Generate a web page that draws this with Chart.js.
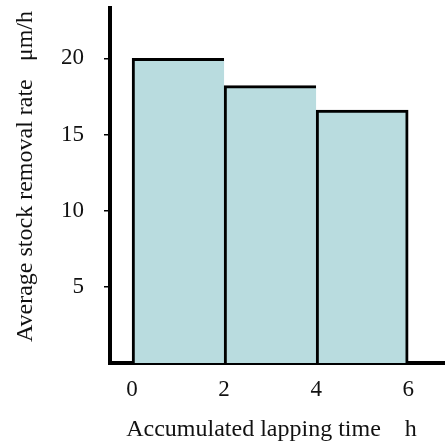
<!DOCTYPE html>
<html>
<head>
<meta charset="utf-8">
<script src="https://cdn.jsdelivr.net/npm/chart.js@4"></script>
<style>
  html, body { margin: 0; padding: 0; background: #fff; }
  #wrap { width: 445px; height: 444px; }
</style>
</head>
<body>
<div id="wrap"><canvas id="myChart"></canvas></div>
<script>
// lapping time bins (h) and average removal rate (um/h)
var binStart = [0, 2, 4];
var binEnd = [2, 4, 6];
var rates = [20, 18.2, 16.6];
var xTicks = [0, 2, 4, 6];
var yTicks = [5, 10, 15, 20];

var serif = "'Liberation Serif', 'DejaVu Serif', serif";
var ctx = document.getElementById("myChart");

var myChart = new Chart(ctx, {
  type: 'bar',
  data: {
    datasets: [{
      data: binStart.map(function (s, i) {
        return { x: (s + binEnd[i]) / 2, y: rates[i] };
      }),
      backgroundColor: "#b9dcdf",
      borderColor: "#000",
      borderWidth: function (c) {
        return { top: 3, left: 3, bottom: 0, right: c.dataIndex === rates.length - 1 ? 3 : 0 };
      },
      borderSkipped: false,
      barPercentage: 1,
      categoryPercentage: 1
    }]
  },
  options: {
    responsive: true,
    maintainAspectRatio: false,
    animation: false,
    layout: { padding: { top: 8, right: 0, left: 0, bottom: 0 } },
    plugins: {
      legend: { display: false },
      tooltip: { enabled: false }
    },
    scales: {
      x: {
        type: 'linear',
        offset: false,
        min: -0.48,
        max: 6.8,
        afterBuildTicks: function (axis) {
          axis.ticks = xTicks.map(function (v) { return { value: v }; });
        },
        afterFit: function (axis) {
          axis.height = 81;
          axis.paddingLeft = 0;
          axis.paddingRight = 0;
        },
        grid: { drawOnChartArea: false, drawTicks: false },
        border: { display: true, color: '#000', width: 4 },
        ticks: {
          color: '#111',
          font: { family: serif, size: 23 },
          padding: 13,
          maxRotation: 0,
          autoSkip: false
        },
        title: {
          display: true,
          text: 'Accumulated lapping time    h  ',
          color: '#111',
          font: { family: serif, size: 24 },
          padding: { top: 0, bottom: 0 }
        }
      },
      y: {
        min: 0,
        max: 23.3,
        afterBuildTicks: function (axis) {
          axis.ticks = yTicks.map(function (v) { return { value: v }; });
        },
        afterFit: function (axis) {
          axis.width = 110;
          axis.paddingTop = 0;
          axis.paddingBottom = 0;
        },
        grid: { drawOnChartArea: false, drawTicks: true, tickLength: 6, color: '#000', lineWidth: 1.5 },
        border: { display: true, color: '#000', width: 4 },
        ticks: {
          color: '#111',
          font: { family: serif, size: 23 },
          padding: 20
        },
        title: {
          display: true,
          text: '   Average stock removal rate   \u03bcm/h',
          color: '#111',
          font: { family: serif, size: 24 },
          padding: { top: 11, bottom: 0 }
        }
      }
    }
  }
});
</script>
</body>
</html>
